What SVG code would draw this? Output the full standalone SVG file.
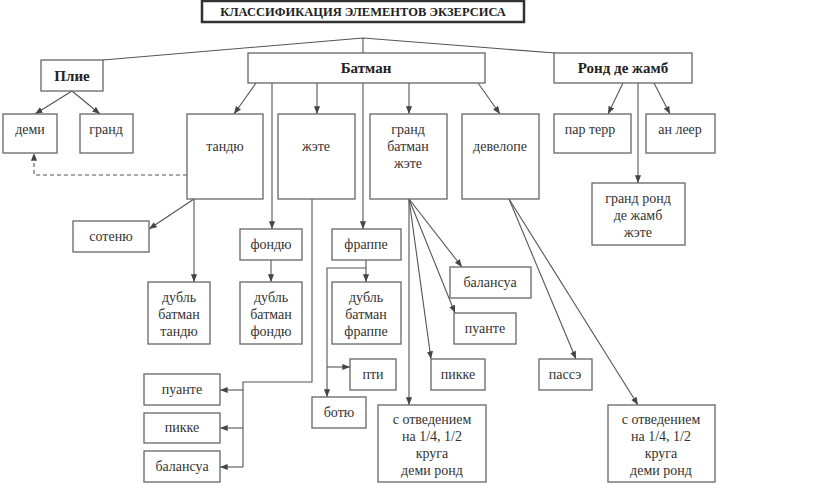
<svg xmlns="http://www.w3.org/2000/svg" width="827" height="503" viewBox="0 0 827 503" font-family="Liberation Serif, DejaVu Serif, serif">
<defs>
<marker id="a" viewBox="0 0 10 10" refX="10" refY="5" markerWidth="7" markerHeight="7" orient="auto-start-reverse"><path d="M0,1 L10,5 L0,9 z" fill="#444"/></marker>
<style>
rect{fill:#fff;stroke:#666;stroke-width:1.3}
text{font-family:'Liberation Serif','DejaVu Serif',serif;font-size:14px;fill:#333;text-anchor:middle}
.b{font-weight:bold;font-size:15px;fill:#222}
#c line,#c polyline{stroke:#555;stroke-width:1.1;fill:none}
.ar{marker-end:url(#a)}
</style>
</defs>
<rect width="827" height="503" style="fill:#fff;stroke:none"/>
<g id="title"><rect x="202" y="1" width="322" height="21" style="stroke:#333;stroke-width:2.5"/><text x="363" y="16" class="b" style="font-size:12.5px">КЛАССИФИКАЦИЯ ЭЛЕМЕНТОВ ЭКЗЕРСИСА</text></g>
<g id="c">
<polyline points="103,60 363,38 555,53"/><line x1="363" y1="38" x2="363" y2="53"/>
<line class="ar" x1="72" y1="91" x2="35" y2="114"/><line class="ar" x1="72" y1="91" x2="100" y2="114"/>
<line class="ar" x1="256" y1="83" x2="234" y2="114"/>
<line class="ar" x1="272" y1="83" x2="272" y2="229"/>
<line class="ar" x1="317" y1="83" x2="317" y2="114"/>
<line class="ar" x1="363" y1="83" x2="363" y2="229"/>
<line class="ar" x1="409" y1="83" x2="409" y2="114"/>
<line class="ar" x1="478" y1="83" x2="500" y2="114"/>
<line class="ar" x1="623" y1="83" x2="608" y2="114"/>
<line class="ar" x1="654" y1="83" x2="670" y2="114"/>
<line class="ar" x1="638" y1="83" x2="638" y2="183"/>
<polyline class="ar" points="187,175 34,175 34,153" style="stroke-dasharray:4,3"/>
<line class="ar" x1="194" y1="199" x2="149" y2="229"/>
<line class="ar" x1="194" y1="199" x2="194" y2="282"/>
<line class="ar" x1="271" y1="260" x2="271" y2="282"/>
<polyline class="ar" points="366,260 366,268 366,282"/>
<polyline class="ar" points="366,268 327,268 327,397"/>
<line class="ar" x1="327" y1="367" x2="350" y2="367"/>
<polyline points="312,199 312,382 243,382 243,467"/>
<line class="ar" x1="243" y1="390" x2="220" y2="390"/>
<line class="ar" x1="243" y1="428" x2="220" y2="428"/>
<line class="ar" x1="243" y1="467" x2="220" y2="467"/>
<line class="ar" x1="409" y1="199" x2="409" y2="405"/>
<line class="ar" x1="409" y1="199" x2="431" y2="359"/>
<line class="ar" x1="409" y1="199" x2="455" y2="313"/>
<line class="ar" x1="409" y1="199" x2="462" y2="267"/>
<line class="ar" x1="509" y1="199" x2="576" y2="359"/>
<line class="ar" x1="509" y1="199" x2="638" y2="405"/>
</g>
<g id="plie"><rect x="41" y="60" width="62" height="31"/><text x="72" y="81" class="b">Плие</text></g>
<g id="batman"><rect x="248" y="53" width="237" height="30"/><text x="366" y="73" class="b">Батман</text></g>
<g id="rond"><rect x="554" y="53" width="138" height="30"/><text x="623" y="73" class="b">Ронд де жамб</text></g>
<g id="demi"><rect x="3" y="114" width="54" height="39"/><text x="30" y="134">деми</text></g>
<g id="grand"><rect x="80" y="114" width="53" height="39"/><text x="106" y="134">гранд</text></g>
<g id="tandu"><rect x="187" y="114" width="76" height="85"/><text x="225" y="151">тандю</text></g>
<g id="jete"><rect x="278" y="114" width="77" height="85"/><text x="316" y="151">жэте</text></g>
<g id="gbj"><rect x="370" y="114" width="77" height="85"/><text x="408" y="134">гранд</text><text x="408" y="151">батман</text><text x="408" y="168">жэте</text></g>
<g id="devel"><rect x="462" y="114" width="77" height="85"/><text x="500" y="151">девелопе</text></g>
<g id="parterre"><rect x="554" y="114" width="77" height="39"/><text x="590" y="134">пар терр</text></g>
<g id="anleer"><rect x="646" y="114" width="69" height="39"/><text x="680" y="134">ан леер</text></g>
<g id="grj"><rect x="592" y="183" width="93" height="62"/><text x="638" y="203">гранд ронд</text><text x="638" y="220">де жамб</text><text x="638" y="237">жэте</text></g>
<g id="soutenu"><rect x="73" y="221" width="76" height="31"/><text x="111" y="241">сотеню</text></g>
<g id="fondu"><rect x="240" y="229" width="62" height="31"/><text x="271" y="249">фондю</text></g>
<g id="frappe"><rect x="332" y="229" width="69" height="31"/><text x="366" y="249">фраппе</text></g>
<g id="dbt"><rect x="148" y="282" width="62" height="62"/><text x="179" y="302">дубль</text><text x="179" y="319">батман</text><text x="179" y="336">тандю</text></g>
<g id="dbf"><rect x="240" y="282" width="62" height="62"/><text x="271" y="302">дубль</text><text x="271" y="319">батман</text><text x="271" y="336">фондю</text></g>
<g id="dbfr"><rect x="332" y="282" width="69" height="62"/><text x="366" y="302">дубль</text><text x="366" y="319">батман</text><text x="366" y="336">фраппе</text></g>
<g id="pti"><rect x="350" y="359" width="46" height="31"/><text x="373" y="379">пти</text></g>
<g id="botu"><rect x="312" y="397" width="54" height="31"/><text x="339" y="417">ботю</text></g>
<g id="pointe1"><rect x="144" y="374" width="76" height="31"/><text x="182" y="394">пуанте</text></g>
<g id="pique1"><rect x="144" y="413" width="76" height="30"/><text x="182" y="432">пикке</text></g>
<g id="bal1"><rect x="144" y="451" width="76" height="31"/><text x="182" y="471">балансуа</text></g>
<g id="bal2"><rect x="450" y="267" width="81" height="31"/><text x="490" y="287">балансуа</text></g>
<g id="pointe2"><rect x="454" y="313" width="62" height="31"/><text x="485" y="333">пуанте</text></g>
<g id="pique2"><rect x="431" y="359" width="54" height="31"/><text x="458" y="379">пикке</text></g>
<g id="passe"><rect x="539" y="359" width="53" height="31"/><text x="565" y="379">пассэ</text></g>
<g id="otv1"><rect x="378" y="405" width="108" height="77"/><text x="432" y="424">с отведением</text><text x="432" y="441">на 1/4, 1/2</text><text x="432" y="458">круга</text><text x="432" y="475">деми ронд</text></g>
<g id="otv2"><rect x="608" y="405" width="107" height="77"/><text x="661" y="424">с отведением</text><text x="661" y="441">на 1/4, 1/2</text><text x="661" y="458">круга</text><text x="661" y="475">деми ронд</text></g>
</svg>
